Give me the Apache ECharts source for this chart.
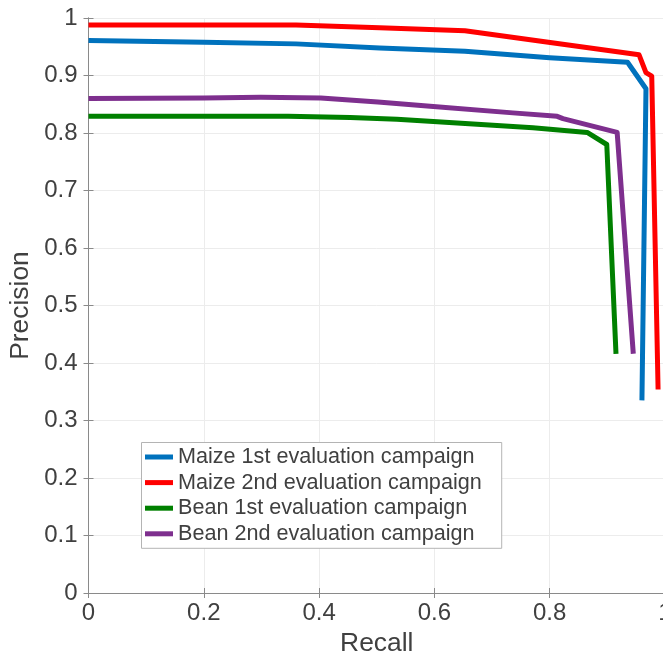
<!DOCTYPE html>
<html>
<head>
<meta charset="utf-8">
<script src="https://cdn.jsdelivr.net/npm/echarts@6/dist/echarts.min.js"></script>
<style>
  html, body { margin: 0; padding: 0; background: #fff; overflow: hidden; }
  #chart { width: 663px; height: 662px; }
</style>
</head>
<body>
<div id="chart"></div>
<script>
// ---- data ----
const seriesNames = [
  'Maize 1st evaluation campaign',
  'Maize 2nd evaluation campaign',
  'Bean 1st evaluation campaign',
  'Bean 2nd evaluation campaign'
];
const maize1Recall    = [0, 0.2, 0.36, 0.505, 0.653, 0.80, 0.935, 0.967, 0.960];
const maize1Precision = [0.961, 0.958, 0.955, 0.948, 0.942, 0.931, 0.923, 0.877, 0.335];
const maize2Recall    = [0, 0.2, 0.36, 0.505, 0.653, 0.955, 0.967, 0.977, 0.988];
const maize2Precision = [0.988, 0.988, 0.988, 0.983, 0.978, 0.936, 0.905, 0.899, 0.354];
const bean1Recall     = [0, 0.346, 0.454, 0.535, 0.598, 0.771, 0.865, 0.899, 0.915];
const bean1Precision  = [0.829, 0.829, 0.827, 0.824, 0.820, 0.809, 0.801, 0.780, 0.416];
const bean2Recall     = [0, 0.2, 0.299, 0.403, 0.502, 0.598, 0.736, 0.813, 0.823, 0.917, 0.945];
const bean2Precision  = [0.860, 0.861, 0.862, 0.861, 0.854, 0.846, 0.835, 0.829, 0.825, 0.801, 0.416];
const xTicks = { min: 0, max: 1, interval: 0.2 };
const yTicks = { min: 0, max: 1, interval: 0.1 };

const colors = ['#0072BD', '#FF0000', '#008000', '#7E2F8E'];
const recalls = [maize1Recall, maize2Recall, bean1Recall, bean2Recall];
const precisions = [maize1Precision, maize2Precision, bean1Precision, bean2Precision];

const FONT = '"Liberation Sans", Arial, Helvetica, sans-serif';
const TEXT = '#404040';
const AXIS = '#8a8a8a';

const chart = echarts.init(document.getElementById('chart'), null, { renderer: 'canvas' });

const series = seriesNames.map((name, i) => ({
  name: name, type: 'line', xAxisIndex: 0, yAxisIndex: 0,
  data: recalls[i].map((r, k) => [r, precisions[i][k]]),
  showSymbol: false, symbol: 'none',
  lineStyle: { width: 5, color: colors[i], join: 'round' },
  itemStyle: { color: colors[i] }, animation: false, z: 3
}));

const commonAxis = {
  axisLine: { show: true, lineStyle: { color: AXIS, width: 1 } },
  axisTick: { show: true, inside: true, length: 5, lineStyle: { color: AXIS } }
};

chart.setOption({
  animation: false,
  textStyle: { fontFamily: FONT },
  grid: { left: 88.5, width: 576.5, top: 18, bottom: 69, containLabel: false, outerBoundsMode: 'none' },
  legend: {
    data: seriesNames, orient: 'vertical', left: 141.5, top: 442.5,
    icon: 'rect', itemWidth: 28, itemHeight: 5, itemGap: 3.6,
    padding: [3.5, 20, 3.5, 3.5], backgroundColor: '#ffffff',
    borderColor: '#b4b4b4', borderWidth: 1, borderRadius: 0,
    textStyle: { fontFamily: FONT, fontSize: 21.6, color: TEXT, lineHeight: 22 }
  },
  xAxis: [
    Object.assign({
      type: 'value', position: 'bottom', min: xTicks.min, max: xTicks.max, interval: xTicks.interval,
      name: 'Recall', nameLocation: 'middle', nameGap: 38,
      nameTextStyle: { fontFamily: FONT, fontSize: 26.4, color: TEXT },
      axisLabel: { fontFamily: FONT, fontSize: 24, color: TEXT, margin: 8 },
      splitLine: { show: true, lineStyle: { color: '#ececec', width: 1 } }
    }, commonAxis),
    Object.assign({
      type: 'value', position: 'top', min: xTicks.min, max: xTicks.max, interval: xTicks.interval,
      axisLabel: { show: false }, splitLine: { show: false }
    }, commonAxis)
  ],
  yAxis: [
    Object.assign({
      type: 'value', position: 'left', min: yTicks.min, max: yTicks.max, interval: yTicks.interval,
      name: 'Precision', nameLocation: 'middle', nameGap: 52, nameRotate: 90,
      nameTextStyle: { fontFamily: FONT, fontSize: 26.4, color: TEXT },
      axisLabel: { fontFamily: FONT, fontSize: 24, color: TEXT, margin: 11 },
      splitLine: { show: true, lineStyle: { color: '#ececec', width: 1 } }
    }, commonAxis),
    Object.assign({
      type: 'value', position: 'right', min: yTicks.min, max: yTicks.max, interval: yTicks.interval,
      axisLabel: { show: false }, splitLine: { show: false }
    }, commonAxis)
  ],
  series: series
});
</script>
</body>
</html>
